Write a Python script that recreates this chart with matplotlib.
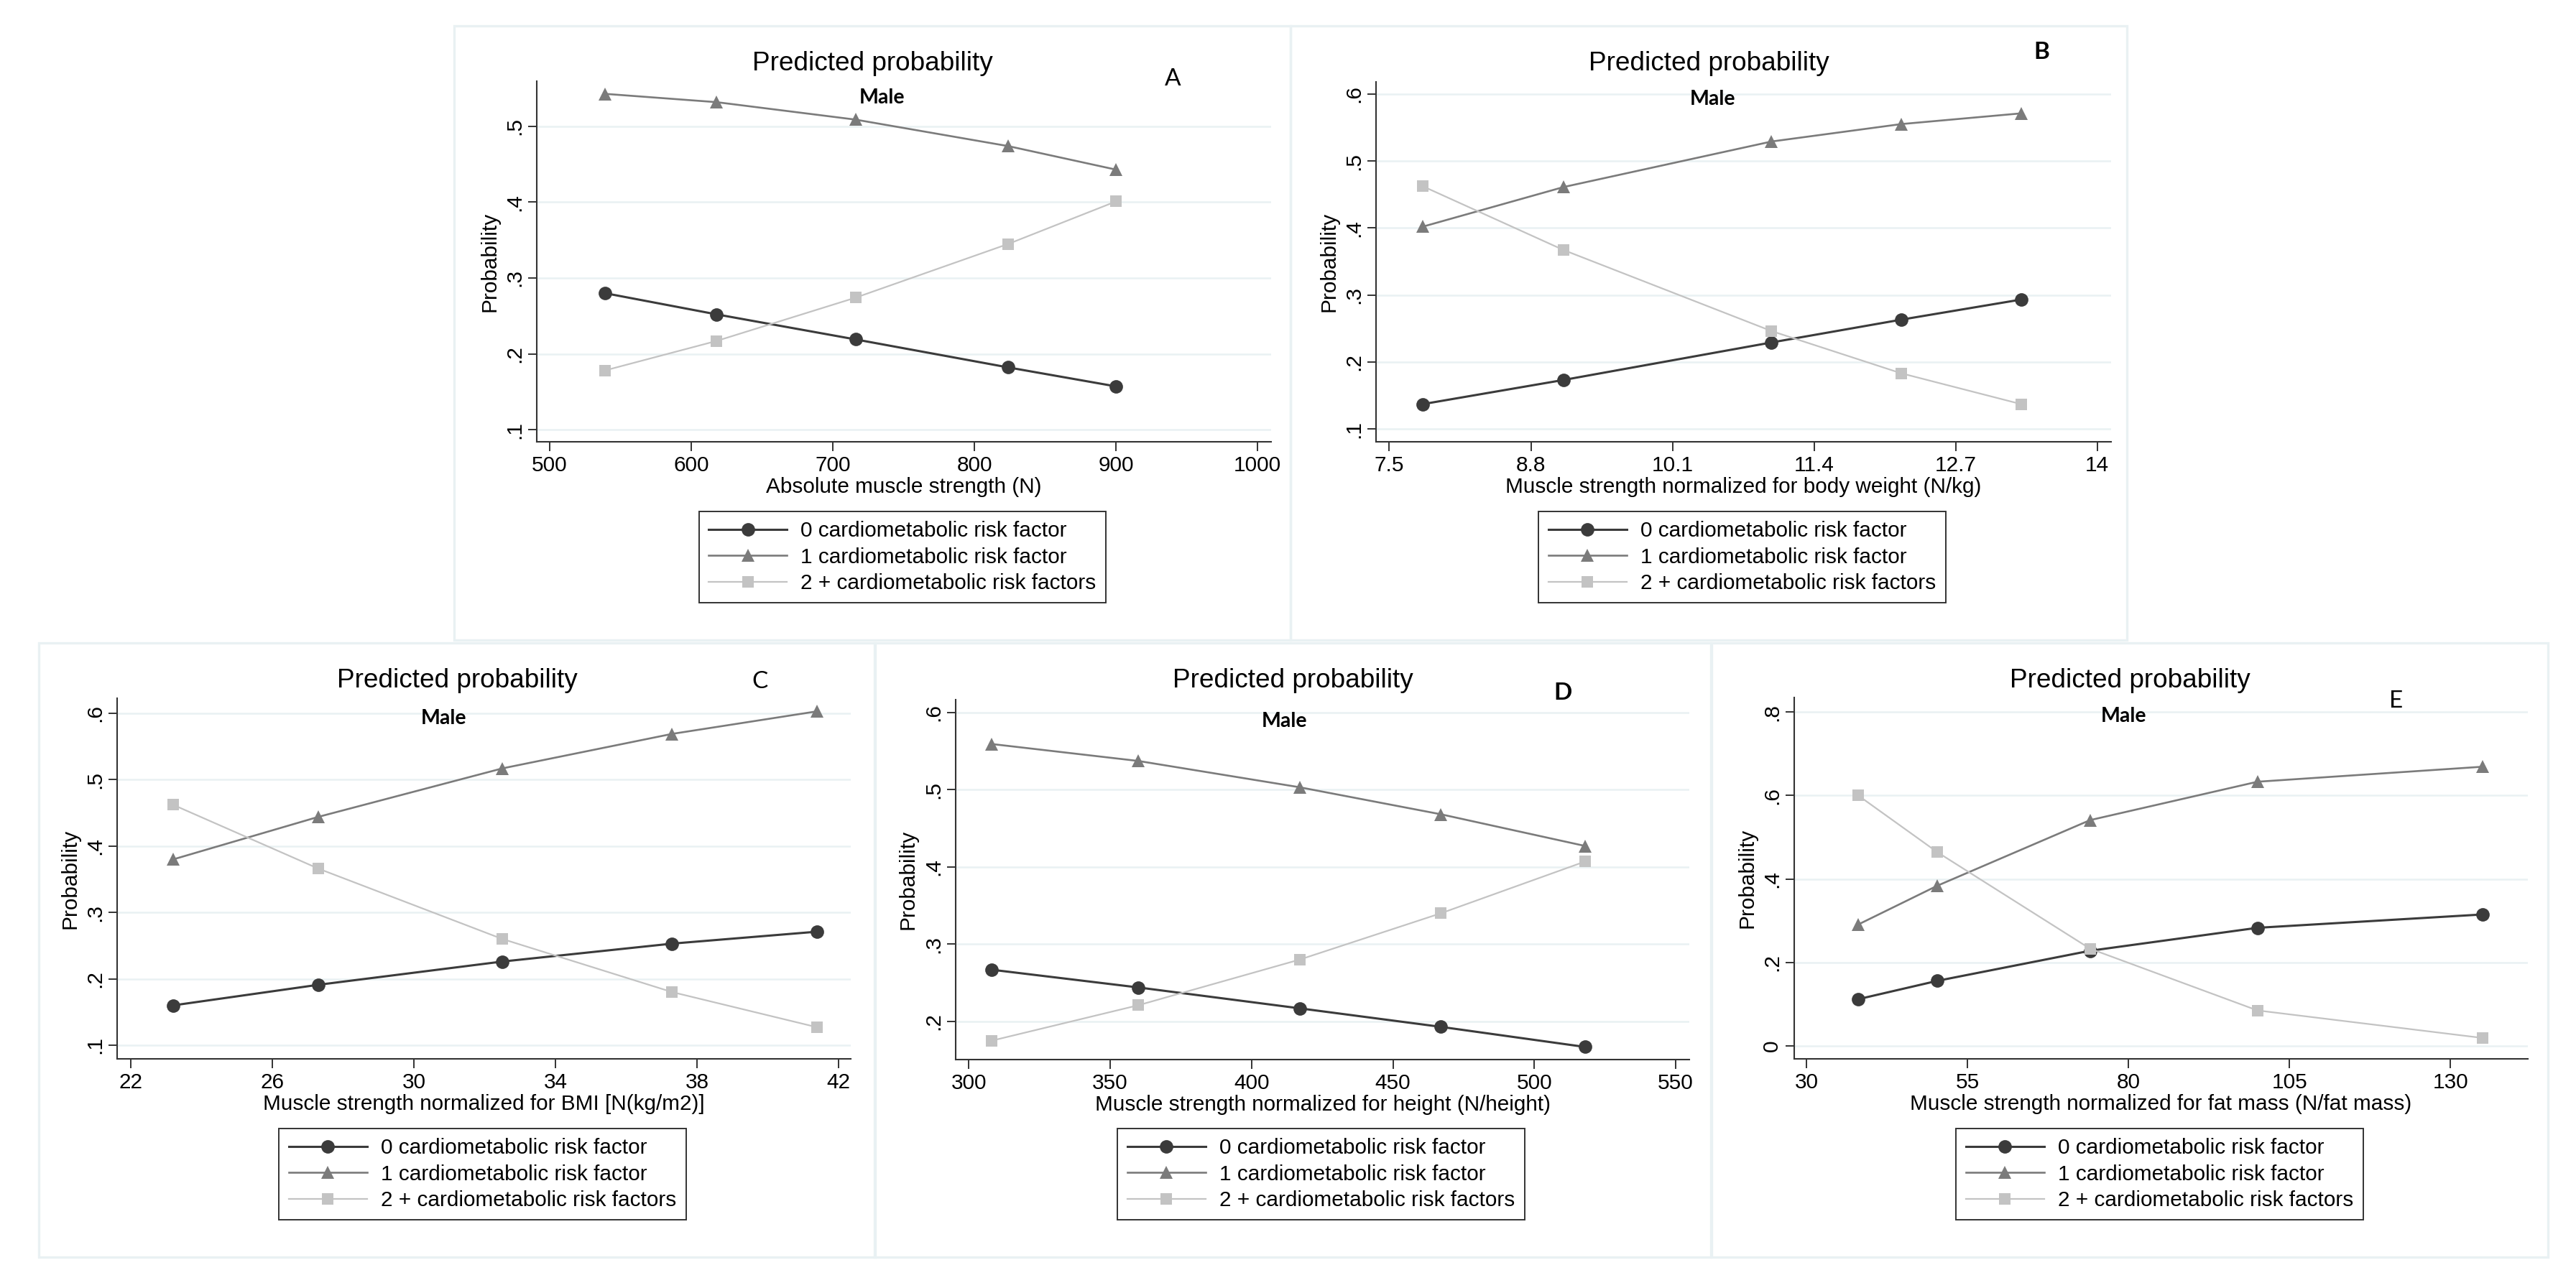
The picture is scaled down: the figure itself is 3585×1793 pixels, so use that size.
import matplotlib
matplotlib.use("Agg")
import matplotlib.pyplot as plt
from matplotlib.patches import Rectangle

# ---- data ----
series_labels = ["0 cardiometabolic risk factor",
                 "1 cardiometabolic risk factor",
                 "2 + cardiometabolic risk factors"]

a_x = [539, 618, 716, 824, 900]
a_zero = [0.280, 0.252, 0.219, 0.182, 0.157]
a_one = [0.543, 0.532, 0.509, 0.474, 0.443]
a_two = [0.178, 0.217, 0.274, 0.345, 0.401]
a_xticks = [500, 600, 700, 800, 900, 1000]
a_yticks = [0.1, 0.2, 0.3, 0.4, 0.5]

b_x = [7.81, 9.10, 11.01, 12.2, 13.3]
b_zero = [0.137, 0.173, 0.229, 0.263, 0.293]
b_one = [0.402, 0.461, 0.529, 0.555, 0.571]
b_two = [0.462, 0.367, 0.246, 0.183, 0.137]
b_xticks = [7.5, 8.8, 10.1, 11.4, 12.7, 14]
b_yticks = [0.1, 0.2, 0.3, 0.4, 0.5, 0.6]

c_x = [23.2, 27.3, 32.5, 37.3, 41.4]
c_zero = [0.160, 0.191, 0.226, 0.253, 0.271]
c_one = [0.380, 0.444, 0.517, 0.569, 0.603]
c_two = [0.462, 0.366, 0.260, 0.180, 0.127]
c_xticks = [22, 26, 30, 34, 38, 42]
c_yticks = [0.1, 0.2, 0.3, 0.4, 0.5, 0.6]

d_x = [308, 360, 417, 467, 518]
d_zero = [0.267, 0.244, 0.217, 0.193, 0.167]
d_one = [0.559, 0.537, 0.503, 0.468, 0.427]
d_two = [0.175, 0.221, 0.280, 0.340, 0.407]
d_xticks = [300, 350, 400, 450, 500, 550]
d_yticks = [0.2, 0.3, 0.4, 0.5, 0.6]

e_x = [38.0, 50.3, 74.0, 100.0, 135.0]
e_zero = [0.112, 0.156, 0.228, 0.283, 0.315]
e_one = [0.291, 0.384, 0.541, 0.633, 0.669]
e_two = [0.600, 0.464, 0.233, 0.085, 0.019]
e_xticks = [30, 55, 80, 105, 130]
e_yticks = [0.0, 0.2, 0.4, 0.6, 0.8]

# ---- layout (pixels in the 3585x1793 image) ----
W, H = 3585, 1793
PW, PH = 1164, 855

panels = [
    dict(letter="A", bold=False, x=a_x, ys=(a_zero, a_one, a_two),
         xticks=a_xticks, yticks=a_yticks,
         xlabel="Absolute muscle strength (N)",
         origin=(632, 36), box=(747, 113, 1769, 615),
         xlim=(490.9, 1009.6), ylim=(0.0839, 0.5597),
         male=(596, 100), lpos=(1000, 74)),
    dict(letter="B", bold=True, x=b_x, ys=(b_zero, b_one, b_two),
         xticks=b_xticks, yticks=b_yticks,
         xlabel="Muscle strength normalized for body weight (N/kg)",
         origin=(1796, 36), box=(1915, 114, 2938, 615),
         xlim=(7.378, 14.128), ylim=(0.0807, 0.618),
         male=(588, 102), lpos=(1045, 37)),
    dict(letter="C", bold=False, x=c_x, ys=(c_zero, c_one, c_two),
         xticks=c_xticks, yticks=c_yticks,
         xlabel="Muscle strength normalized for BMI [N(kg/m2)]",
         origin=(54, 895), box=(163, 972, 1184, 1474),
         xlim=(21.61, 42.35), ylim=(0.0794, 0.6227),
         male=(563, 105), lpos=(1004, 54)),
    dict(letter="D", bold=True, x=d_x, ys=(d_zero, d_one, d_two),
         xticks=d_xticks, yticks=d_yticks,
         xlabel="Muscle strength normalized for height (N/height)",
         origin=(1217, 895), box=(1330, 974, 2351, 1475),
         xlim=(295.4, 554.8), ylim=(0.1507, 0.6163),
         male=(570, 109), lpos=(958, 70)),
    dict(letter="E", bold=False, x=e_x, ys=(e_zero, e_one, e_two),
         xticks=e_xticks, yticks=e_yticks,
         xlabel="Muscle strength normalized for fat mass (N/fat mass)",
         origin=(2382, 895), box=(2497, 971, 3518, 1474),
         xlim=(28.05, 142.0), ylim=(-0.031, 0.8348),
         male=(574, 102), lpos=(953, 81)),
]

styles = [
    dict(color="#3b3b3b", marker="o", markersize=13.5, linewidth=2.2),
    dict(color="#7b7b7b", marker="^", markersize=13.5, linewidth=1.9),
    dict(color="#c3c3c3", marker="s", markersize=12.2, linewidth=1.6),
]

plt.rcParams["font.family"] = ["Liberation Sans", "DejaVu Sans"]
grid_col = "#e9f1f3"
axis_col = "#333333"
FS = 21.4


def fx(x):
    return x / W


def fy(y):
    return 1 - y / H


def stata_fmt(v):
    s = f"{v:g}"
    return s[1:] if s.startswith("0.") else s


fig = plt.figure(figsize=(W / 100, H / 100), dpi=100)
fig.patch.set_facecolor("white")

for p in panels:
    ox, oy = p["origin"]
    # light frame around each panel
    fig.add_artist(Rectangle((fx(ox), fy(oy + PH)), PW / W, PH / H,
                             transform=fig.transFigure, fill=False,
                             edgecolor=grid_col, linewidth=2.4))

    x0, y0, x1, y1 = p["box"]
    ax = fig.add_axes([fx(x0), fy(y1), (x1 - x0) / W, (y1 - y0) / H])
    for ys, st, lab in zip(p["ys"], styles, series_labels):
        ax.plot(p["x"], ys, label=lab, color=st["color"], marker=st["marker"],
                markersize=st["markersize"], linewidth=st["linewidth"],
                markeredgewidth=0, clip_on=False)

    ax.set_xlim(*p["xlim"])
    ax.set_ylim(*p["ylim"])
    ax.set_xticks(p["xticks"])
    ax.set_xticklabels([f"{v:g}" for v in p["xticks"]])
    ax.set_yticks(p["yticks"])
    ax.set_yticklabels([stata_fmt(v) for v in p["yticks"]])
    ax.grid(axis="y", color=grid_col, linewidth=1.8)
    ax.set_axisbelow(True)
    for side in ["top", "right"]:
        ax.spines[side].set_visible(False)
    for side in ["left", "bottom"]:
        ax.spines[side].set_color(axis_col)
        ax.spines[side].set_linewidth(1.5)
    ax.tick_params(length=9, width=1.4, color=axis_col, labelsize=FS,
                   labelcolor="black")
    ax.tick_params(axis="x", pad=5)
    ax.tick_params(axis="y", pad=3, labelrotation=90)
    for t in ax.get_yticklabels():
        t.set_verticalalignment("center")

    ax.set_xlabel(p["xlabel"], fontsize=FS, labelpad=1)
    ax.set_ylabel("Probability", fontsize=FS)
    ax.yaxis.set_label_coords(-52 / (x1 - x0), 0.5)

    # legend below the plot
    leg = ax.legend(loc="upper center",
                    bbox_to_anchor=(fx((x0 + x1) / 2 - 2), fy(oy + 676)),
                    bbox_transform=fig.transFigure, borderaxespad=0,
                    fontsize=FS, numpoints=1, handlelength=3.67,
                    handletextpad=0.64, borderpad=0.45, labelspacing=0.28,
                    fancybox=False, framealpha=1)
    leg.get_frame().set_edgecolor(axis_col)
    leg.get_frame().set_linewidth(1.4)

    fig.text(fx(ox + 582), fy(oy + 53), "Predicted probability",
             fontsize=26.6, ha="center", va="center")
    mx, my = p["male"]
    fig.text(fx(ox + mx), fy(oy + my), "Male", family="Lato",
             fontweight="bold", fontsize=20.5, ha="center", va="center")
    lx, ly = p["lpos"]
    fig.text(fx(ox + lx), fy(oy + ly), p["letter"], family="Lato",
             fontweight="bold" if p["bold"] else "normal", fontsize=24,
             ha="center", va="center")

fig.savefig("out.png", dpi=100, facecolor="white")
